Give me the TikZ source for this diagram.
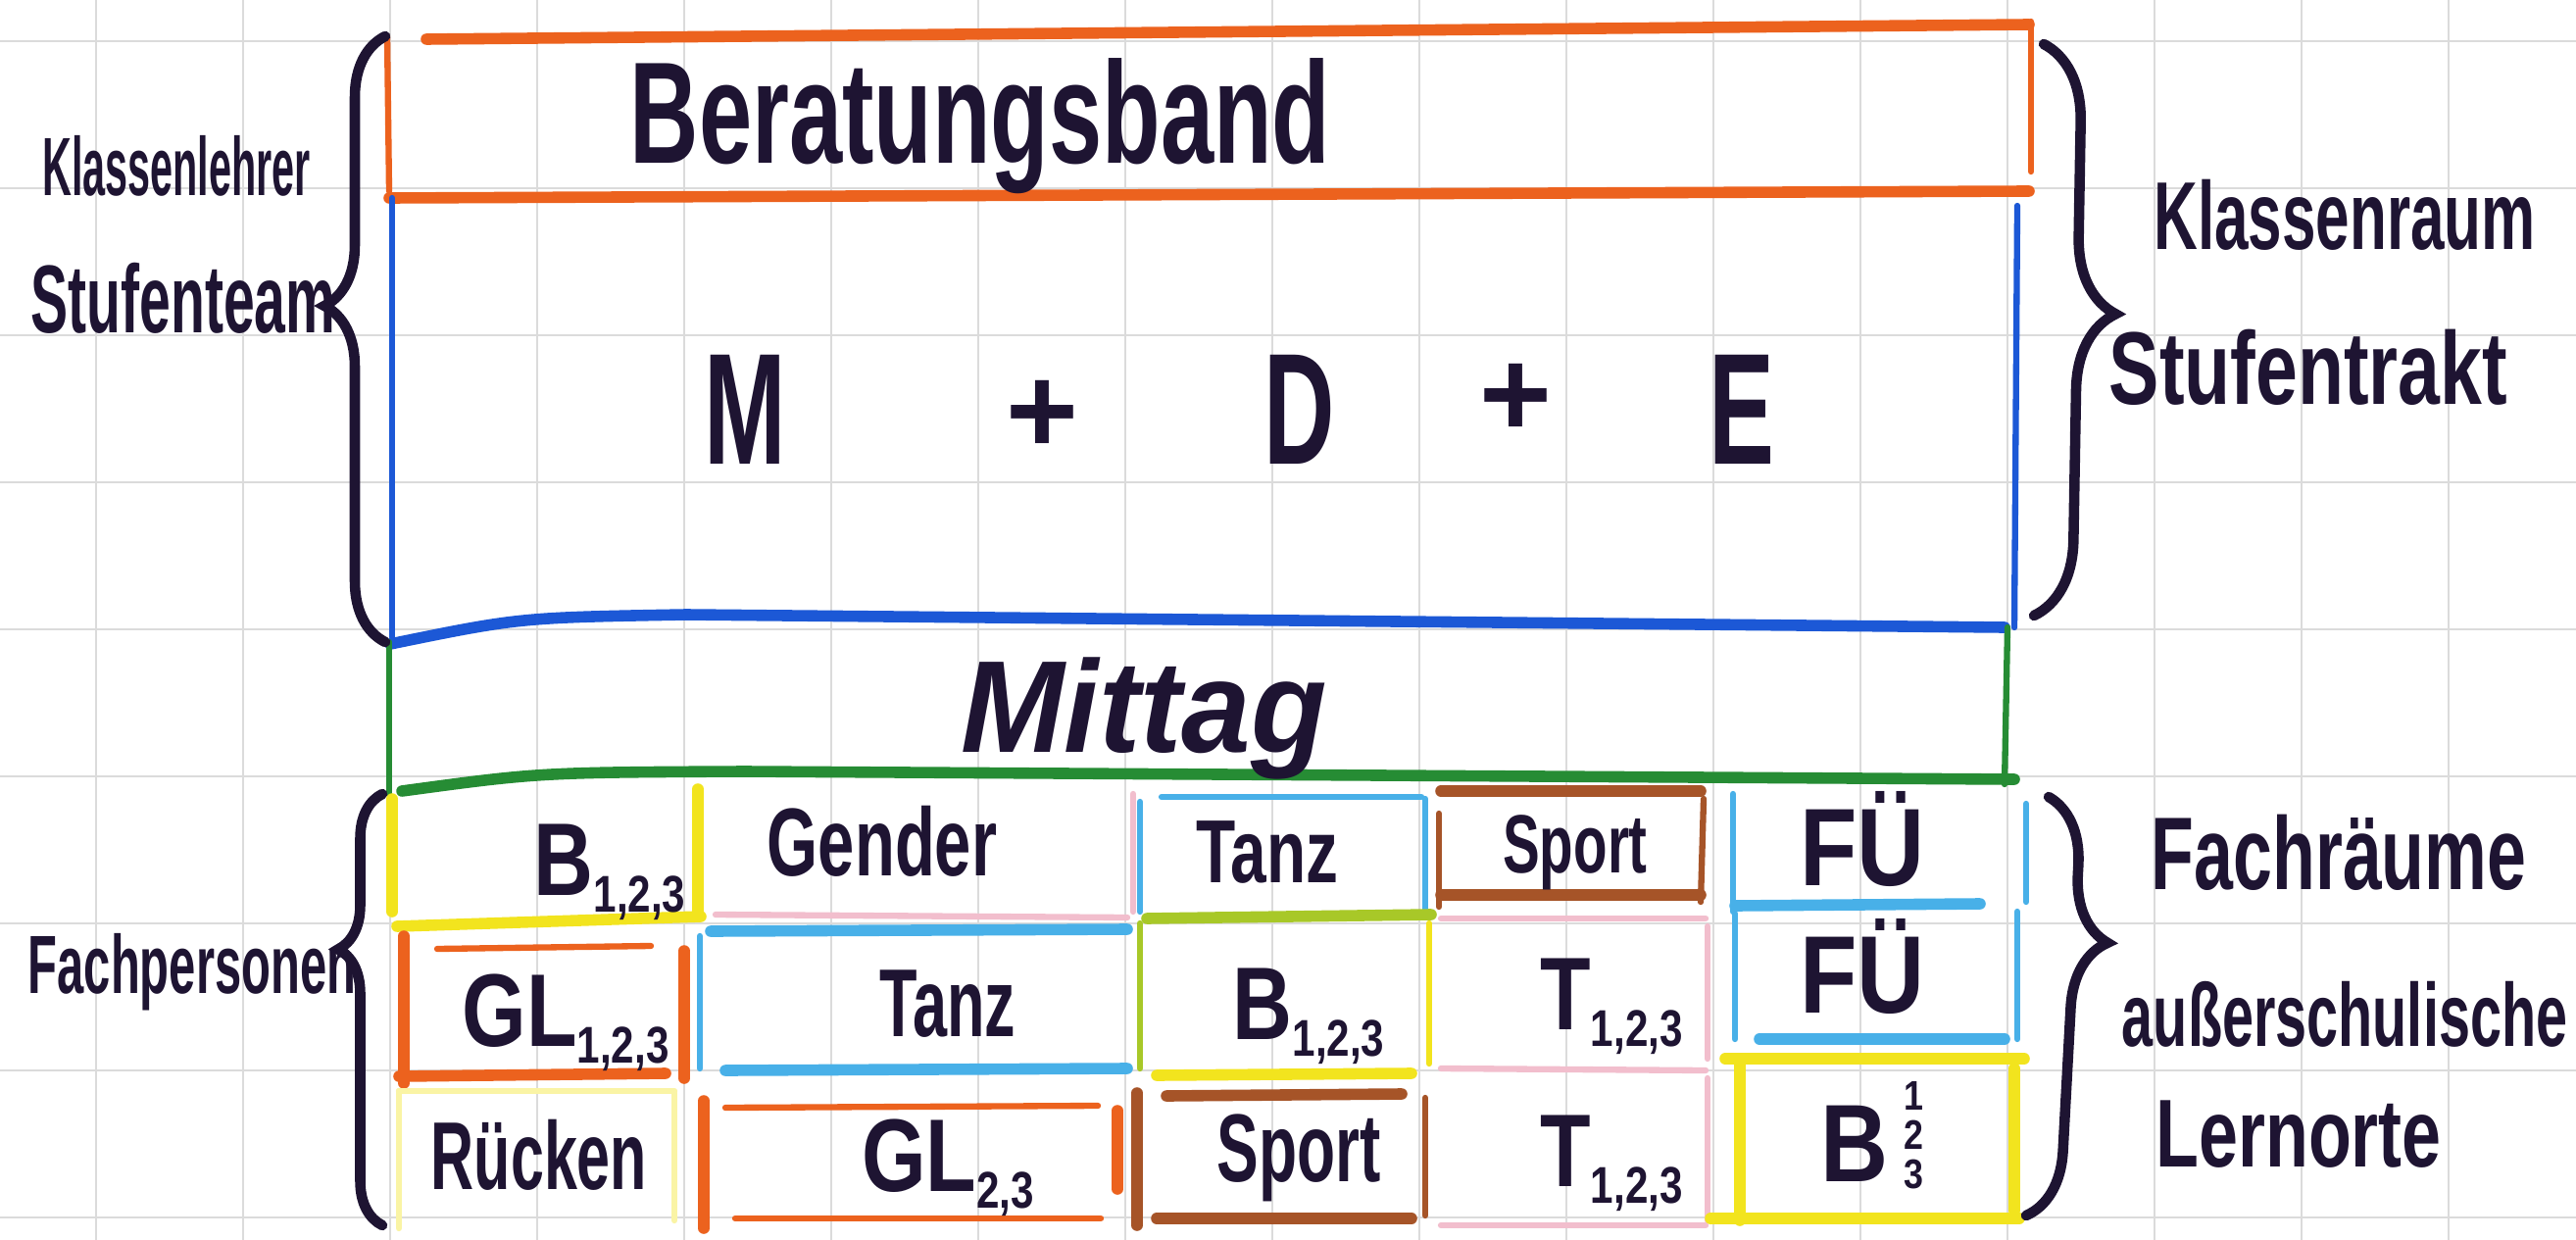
\documentclass[tikz,border=0pt]{standalone}
\usepackage{graphicx}
\usepackage{fontspec}
\setmainfont{Liberation Sans}
\usetikzlibrary{decorations.pathreplacing}

\definecolor{ink}{RGB}{30,20,50}
\definecolor{crOrange}{RGB}{236,98,30}
\definecolor{crBlue}{RGB}{28,88,214}
\definecolor{crGreen}{RGB}{38,140,52}
\definecolor{crYellow}{RGB}{242,228,30}
\definecolor{crSky}{RGB}{72,176,232}
\definecolor{crBrown}{RGB}{166,84,40}
\definecolor{crPink}{RGB}{242,190,205}
\definecolor{crLime}{RGB}{168,200,40}

% narrow handwriting
\newcommand{\nar}[2][0.7]{\scalebox{#1}[1]{#2}}
% small lowered index
\newcommand{\lowidx}[1]{\raisebox{-5pt}{\fontsize{15pt}{15pt}\selectfont #1}}

\tikzset{
  gridline/.style={gray!28, line width=0.7pt},
  crayon/.style={line width=3.3pt, line cap=round},
  pencil/.style={line width=1.8pt, line cap=round},
  hand/.style={text=ink, inner sep=0pt, anchor=base, font=\bfseries\fontsize{#1}{#1}\selectfont},
  curly/.style 2 args={ink, line width=3pt, line cap=round, decorate,
    decoration={brace, amplitude=#1, aspect=#2}},
}

\begin{document}
\begin{tikzpicture}[x=1cm, y=-1cm]
\useasboundingbox (0,0) rectangle (26.28,12.65);
\fill[white] (0,0) rectangle (26.28,12.65);

% squared paper
\foreach \gx in {0,...,16}
  \draw[gridline] (0.98+1.5*\gx,0) -- (0.98+1.5*\gx,12.65);
\foreach \gy in {0,...,8}
  \draw[gridline] (0,0.42+1.5*\gy) -- (26.28,0.42+1.5*\gy);

% Beratungsband
\draw[crayon, crOrange] (4.35,0.40) -- (20.70,0.25);
\draw[crayon, crOrange] (3.97,2.02) -- (20.70,1.95);
\draw[pencil, crOrange] (3.95,0.37) -- (3.97,1.95);
\draw[pencil, crOrange] (20.72,0.22) -- (20.72,1.75);

% Klassenraum
\draw[pencil, crBlue] (4.00,2.02) -- (4.00,6.50);
\draw[pencil, crBlue] (20.58,2.10) -- (20.55,6.40);
\draw[crayon, crBlue] (3.98,6.57) .. controls (5.3,6.30) .. (7.0,6.27) -- (20.45,6.40);

% Mittag
\draw[pencil, crGreen] (3.97,6.55) -- (3.97,8.10);
\draw[pencil, crGreen] (20.48,6.40) -- (20.45,8.00);
\draw[crayon, crGreen] (4.10,8.07) .. controls (5.5,7.88) .. (7.6,7.87) -- (20.55,7.95);

% row 1
\draw[crayon, crYellow] (4.00,8.15) -- (4.00,9.30);
\draw[crayon, crYellow] (7.12,8.05) -- (7.12,9.35);
\draw[crayon, crYellow] (4.05,9.45) -- (7.15,9.35);
\draw[pencil, crPink] (7.30,9.33) -- (11.50,9.36);
\draw[pencil, crPink] (11.56,8.10) -- (11.56,9.30);
\draw[pencil, crSky] (11.85,8.13) -- (14.50,8.13);
\draw[pencil, crSky] (11.63,8.18) -- (11.63,9.30);
\draw[pencil, crSky] (14.54,8.15) -- (14.54,9.28);
\draw[crayon, crLime] (11.70,9.37) -- (14.60,9.33);
\draw[crayon, crBrown] (14.70,8.07) -- (17.35,8.07);
\draw[crayon, crBrown] (14.70,9.13) -- (17.35,9.13);
\draw[pencil, crBrown] (14.68,8.30) -- (14.68,9.25);
\draw[pencil, crBrown] (17.38,8.15) -- (17.35,9.20);
\draw[pencil, crSky] (17.68,8.10) -- (17.68,9.30);
\draw[pencil, crSky] (20.67,8.20) -- (20.67,9.20);
\draw[crayon, crSky] (17.70,9.24) -- (20.20,9.22);

% row 2
\draw[pencil, crOrange] (4.46,9.68) -- (6.64,9.65);
\draw[crayon, crOrange] (4.12,9.55) -- (4.12,11.05);
\draw[crayon, crOrange] (6.98,9.70) -- (6.98,11.00);
\draw[crayon, crOrange] (4.07,10.98) -- (6.79,10.95);
\draw[crayon, crSky] (7.25,9.50) -- (11.50,9.48);
\draw[pencil, crSky] (7.14,9.55) -- (7.14,10.90);
\draw[crayon, crSky] (7.40,10.92) -- (11.50,10.90);
\draw[pencil, crLime] (11.63,9.42) -- (11.63,10.90);
\draw[pencil, crYellow] (14.58,9.42) -- (14.58,10.85);
\draw[crayon, crYellow] (11.80,10.97) -- (14.40,10.95);
\draw[pencil, crPink] (14.70,9.37) -- (17.40,9.37);
\draw[pencil, crPink] (17.42,9.45) -- (17.42,10.80);
\draw[pencil, crPink] (14.70,10.90) -- (17.40,10.92);
\draw[pencil, crSky] (17.70,9.32) -- (17.70,10.60);
\draw[pencil, crSky] (20.58,9.30) -- (20.58,10.60);
\draw[crayon, crSky] (17.95,10.60) -- (20.45,10.60);

% row 3
\draw[pencil, crYellow!40] (4.07,11.13) -- (6.88,11.13);
\draw[pencil, crYellow!40] (4.07,11.13) -- (4.07,12.53);
\draw[pencil, crYellow!40] (6.88,11.15) -- (6.88,12.45);
\draw[pencil, crOrange] (7.40,11.30) -- (11.20,11.28);
\draw[pencil, crOrange] (7.50,12.43) -- (11.23,12.43);
\draw[crayon, crOrange] (7.18,11.23) -- (7.18,12.53);
\draw[crayon, crOrange] (11.40,11.33) -- (11.40,12.13);
\draw[crayon, crBrown] (11.90,11.18) -- (14.30,11.16);
\draw[crayon, crBrown] (11.80,12.43) -- (14.40,12.43);
\draw[crayon, crBrown] (11.60,11.15) -- (11.60,12.50);
\draw[pencil, crBrown] (14.54,11.20) -- (14.54,12.40);
\draw[pencil, crPink] (17.42,11.00) -- (17.42,12.45);
\draw[pencil, crPink] (14.70,12.50) -- (17.40,12.50);
\draw[crayon, crYellow] (17.60,10.80) -- (20.65,10.80);
\draw[crayon, crYellow] (17.75,10.85) -- (17.75,12.45);
\draw[crayon, crYellow] (20.55,10.90) -- (20.55,12.35);
\draw[crayon, crYellow] (17.45,12.43) -- (20.60,12.43);

% big texts
\node[hand=42pt] (beratung) at (10.00,1.67) {\nar[0.66]{Beratungsband}};
\node[hand=46pt] (fachM) at (7.60,4.73) {\nar[0.62]{M}};
\node[hand=36pt] (plus1) at (10.63,4.62) {+};
\node[hand=46pt] (fachD) at (13.26,4.73) {\nar[0.62]{D}};
\node[hand=36pt] (plus2) at (15.46,4.45) {+};
\node[hand=46pt] (fachE) at (17.77,4.73) {\nar[0.62]{E}};
\node[hand=38pt] (mittag) at (11.67,7.67) {\itshape\nar[0.95]{Mittag}};

% cells
\node[hand=30pt] (bio1) at (6.22,9.13) {\nar[0.8]{B\lowidx{1,2,3}}};
\node[hand=28pt] (gender) at (9.00,8.93) {\nar[0.68]{Gender}};
\node[hand=26pt] (tanz1) at (12.93,9.00) {\nar[0.72]{Tanz}};
\node[hand=24pt] (sport1) at (16.07,8.90) {\nar[0.67]{Sport}};
\node[hand=32pt] (foerd1) at (19.00,9.03) {\nar[0.85]{FÜ}};
\node[hand=30pt] (gl1) at (5.77,10.67) {\nar[0.8]{GL\lowidx{1,2,3}}};
\node[hand=28pt] (tanz2) at (9.67,10.57) {\nar[0.64]{Tanz}};
\node[hand=30pt] (bio2) at (13.35,10.60) {\nar[0.8]{B\lowidx{1,2,3}}};
\node[hand=30pt] (theater2) at (16.44,10.50) {\nar[0.8]{T\lowidx{1,2,3}}};
\node[hand=32pt] (foerd2) at (19.00,10.33) {\nar[0.85]{FÜ}};
\node[hand=28pt] (ruecken) at (5.50,12.13) {\nar[0.62]{Rücken}};
\node[hand=30pt] (gl3) at (9.67,12.15) {\nar[0.8]{GL\lowidx{2,3}}};
\node[hand=28pt] (sport3) at (13.25,12.05) {\nar[0.65]{Sport}};
\node[hand=30pt] (theater3) at (16.44,12.10) {\nar[0.8]{T\lowidx{1,2,3}}};
\node[hand=32pt] (bio3) at (19.10,12.05)
  {\nar[0.85]{B\,\raisebox{-2pt}{\fontsize{12pt}{12pt}\selectfont\shortstack{1\\2\\3}}}};

% side labels
\node[hand=24pt] (klassenlehrer) at (1.80,2.00) {\nar[0.49]{Klassenlehrer}};
\node[hand=28pt] (stufenteam) at (1.87,3.40) {\nar[0.58]{Stufenteam}};
\node[hand=24pt] (fachpersonen) at (1.96,10.13) {\nar[0.58]{Fachpersonen}};
\node[hand=28pt] (klassenraum) at (23.92,2.55) {\nar[0.63]{Klassenraum}};
\node[hand=30pt] (stufentrakt) at (23.55,4.12) {\nar[0.73]{Stufentrakt}};
\node[hand=30pt] (fachraeume) at (23.86,9.07) {\nar[0.68]{Fachräume}};
\node[hand=26pt] (ausser) at (23.92,10.67) {\nar[0.63]{außerschulische}};
\node[hand=28pt] (lernorte) at (23.45,11.90) {\nar[0.73]{Lernorte}};

% braces
\coordinate (lbTop) at (3.93,0.37);
\coordinate (lbBot) at (3.93,6.55);
\coordinate (llTop) at (3.90,8.10);
\coordinate (llBot) at (3.90,12.50);
\coordinate (rbTop) at (20.85,0.45);
\coordinate (rbBot) at (20.75,6.28);
\coordinate (rlTop) at (20.90,8.13);
\coordinate (rlBot) at (20.67,12.40);
\draw[curly={0.62cm}{0.555}] (lbBot) -- (lbTop);
\draw[curly={0.45cm}{0.64}] (llBot) -- (llTop);
\draw[curly={0.78cm}{0.47}] (rbTop) -- (rbBot);
\draw[curly={0.68cm}{0.34}] (rlTop) -- (rlBot);
\end{tikzpicture}
\end{document}
